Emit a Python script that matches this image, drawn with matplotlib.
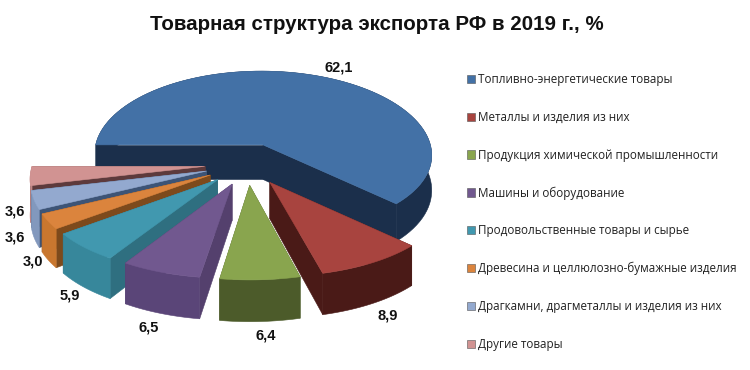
import numpy as np
import matplotlib
matplotlib.use("Agg")
import matplotlib.pyplot as plt
from matplotlib.patches import Patch

categories = ["Топливно-энергетические товары", "Металлы и изделия из них",
              "Продукция химической промышленности", "Машины и оборудование",
              "Продовольственные товары и сырье", "Древесина и целлюлозно-бумажные изделия",
              "Драгкамни, драгметаллы и изделия из них", "Другие товары"]
values = [62.1, 8.9, 6.4, 6.5, 5.9, 3.0, 3.6, 3.6]
value_labels = ["62,1", "8,9", "6,4", "6,5", "5,9", "3,0", "3,6", "3,6"]
title = "Товарная структура экспорта РФ в 2019 г., %"

top_colors = ["#4371a6", "#a8443f", "#89a54e", "#71588f", "#4198af", "#db843d", "#93a9cf", "#d19392"]
arc_colors = ["#1b2f4b", "#4a1a17", "#4c5b2a", "#5a4578", "#37879b", "#c9772f", "#8298bd", "#c08585"]
face_colors = ["#1b2f4b", "#4a1a17", "#4c5b2a", "#54406d", "#2f6f80", "#7d4a1c", "#3d5476", "#5d3a3c"]
label_xy = [(339, 67), (388, 315), (266, 336), (149, 327), (70, 295), (33, 262), (15, 238), (15, 211)]

CX, CY = 247.5, 164.0
RX, P, EXPL, DEPTH = 172.0, 0.12, 0.25, 35.5


def project(x, y):
    k = 1.0 / (1.0 + P * y)
    return CX + RX * x * k, CY - (84.0 * y - 7.0 * y * y), DEPTH * k


plt.rcParams["font.family"] = ["Open Sans", "DejaVu Sans"]
fig = plt.figure(figsize=(7.5, 3.7), dpi=100, facecolor="white")
ax = fig.add_axes([0, 0, 1, 1])
ax.set_xlim(0, 750)
ax.set_ylim(370, 0)
ax.axis("off")

fractions = np.array(values) / sum(values)
edges = 180.0 - 360.0 * np.concatenate([[0], np.cumsum(fractions)])
mids = np.radians((edges[:-1] + edges[1:]) / 2)
order = np.argsort(-np.sin(mids))

for z, i in enumerate(order):
    ox, oy = EXPL * np.cos(mids[i]), EXPL * np.sin(mids[i])
    th = np.radians(np.linspace(edges[i], edges[i + 1], 90))
    ax_, ay_ = ox + np.cos(th), oy + np.sin(th)
    X, Y, D = project(ax_, ay_)
    tx, ty, td = project(ox, oy)
    base = 10 + z * 4
    kw = dict(linewidth=0.4)
    # radial cut faces
    for px, py, pd in ((X[0], Y[0], D[0]), (X[-1], Y[-1], D[-1])):
        ax.fill([tx, px, px, tx], [ty, py, py + pd, ty + td],
                color=face_colors[i], zorder=base, **kw)
    # outer rim
    ax.fill(np.r_[X, X[::-1]], np.r_[Y, (Y + D)[::-1]],
            color=arc_colors[i], zorder=base + 1, **kw)
    # top
    ax.fill(np.r_[tx, X], np.r_[ty, Y], color=top_colors[i], zorder=base + 2, **kw)

bold = ["Liberation Sans", "DejaVu Sans"]
for txt, (lx, ly) in zip(value_labels, label_xy):
    ax.text(lx, ly, txt, ha="center", va="center", fontsize=10.5, fontweight="bold",
            family=bold, color="#111111", zorder=100)

ax.text(377, 24, title, ha="center", va="center", fontsize=14.8, fontweight="bold",
        family=bold, color="#111111")

handles = [Patch(facecolor=c, edgecolor="#555555", linewidth=0.4) for c in top_colors]
fig.legend(handles, categories, loc="center left", bbox_to_anchor=(467 / 750, 1 - 212 / 370),
           frameon=False, fontsize=8.4, handlelength=0.72, handleheight=0.7, handletextpad=0.25,
           labelspacing=2.12, borderpad=0, borderaxespad=0, labelcolor="#222222")

fig.savefig("out.png", dpi=100, facecolor="white")
